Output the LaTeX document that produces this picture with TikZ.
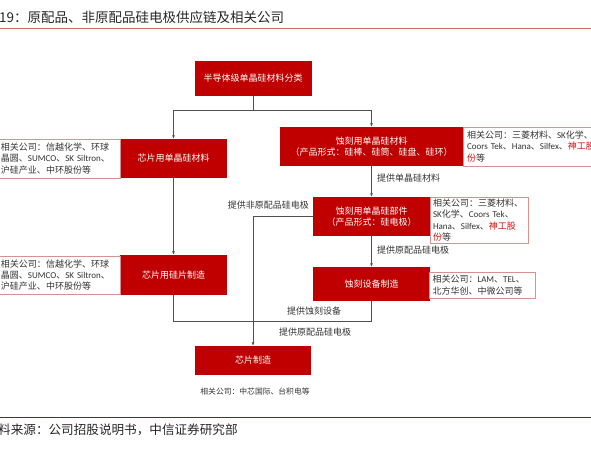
\documentclass[tikz,border=0pt]{standalone}
\usepackage{fontspec}
\setmainfont{Noto Sans CJK SC}
\newfontfamily\latf{Carlito}
\newcommand\myl[1]{{\latf #1}}
\newcommand\nohyph{\hyphenpenalty10000\relax}
\usetikzlibrary{arrows.meta}
\definecolor{boxred}{HTML}{C00000}
\definecolor{hl}{HTML}{D01010}
\definecolor{relborder}{HTML}{D89090}
\definecolor{linegray}{HTML}{505050}
\definecolor{txtgray}{HTML}{333333}
\definecolor{titleline}{HTML}{D06A6A}
\tikzset{
  redbox/.style={fill=boxred, text=white, font=\fontsize{9}{11.2}\selectfont, align=center, inner sep=0pt},
  relbox/.style={draw=relborder, line width=0.6pt, fill=white, font={\fontsize{9}{11.2}\selectfont\nohyph}, text=txtgray, align=left, inner xsep=2pt, inner ysep=0pt},
  conn/.style={draw=linegray, line width=0.7pt},
  arr/.style={conn, -{Latex[length=3.5pt,width=3pt]}},
  lbl/.style={font=\fontsize{9}{11}\selectfont, text=txtgray, inner sep=0pt},
}
\begin{document}
\begin{tikzpicture}[x=1pt,y=-1pt]
\useasboundingbox (0,0) rectangle (591,450);
\clip (0,0) rectangle (591,450);
% title and footer
\node[anchor=west, inner sep=0pt, font=\fontsize{13.5}{15}\selectfont, text=black!85] (title) at (-1,17) {19：原配品、非原配品硅电极供应链及相关公司};
\draw[titleline, line width=1pt] (0,28.5) -- (591,28.5);
\draw[boxred, line width=0.8pt] (0,417) -- (591,417);
\node[anchor=west, inner sep=0pt, font=\fontsize{12.6}{14}\selectfont, text=black!85] (foot) at (-2,430) {料来源：公司招股说明书，中信证券研究部};
% red boxes
\node[redbox, minimum width=117, minimum height=35] (top) at (253,78.5) {半导体级单晶硅材料分类};
\node[redbox, minimum width=107, minimum height=39] (chipmat) at (173.5,158.5) {芯片用单晶硅材料};
\node[redbox, minimum width=183, minimum height=39] (etchmat) at (371.5,146.5) {蚀刻用单晶硅材料\\（产品形式：硅棒、硅筒、硅盘、硅环）};
\node[redbox, minimum width=117, minimum height=39] (etchpart) at (371.5,216.5) {蚀刻用单晶硅部件\\（产品形式：硅电极）};
\node[redbox, minimum width=107, minimum height=40] (chipwafer) at (173.5,275) {芯片用硅片制造};
\node[redbox, minimum width=117, minimum height=34] (equip) at (371.5,284) {蚀刻设备制造};
\node[redbox, minimum width=116, minimum height=29] (chip) at (253,360.5) {芯片制造};
% related-company boxes
\node[relbox, text width=117, minimum height=39] (chipmatrel) at (59.5,158.5) {相关公司：信越化学、环球\\晶圆、\myl{SUMCO}、\myl{SK Siltron}、\\沪硅产业、中环股份等};
\node[relbox, text width=117, minimum height=38] (chipwaferrel) at (59.5,275) {相关公司：信越化学、环球\\晶圆、\myl{SUMCO}、\myl{SK Siltron}、\\沪硅产业、中环股份等};
\node[relbox, inner xsep=4pt, text width=179, minimum height=39] (etchmatrel) at (556.5,146.5) {相关公司：三菱材料、\myl{SK}化学、\\\myl{Coors Tek}、\myl{Hana}、\myl{Silfex}、\textcolor{hl}{神工股}\\\textcolor{hl}{份}等};
\node[relbox, inner xsep=3pt, text width=92, minimum height=46] (etchpartrel) at (479,220) {相关公司：三菱材料、\\\myl{SK}化学、\myl{Coors Tek}、\\\myl{Hana}、\myl{Silfex}、\textcolor{hl}{神工股}\\\textcolor{hl}{份}等};
\node[relbox, inner xsep=3pt, text width=100, minimum height=26] (equiprel) at (482.5,285) {相关公司：\myl{LAM}、\myl{TEL}、\\北方华创、中微公司等};
\node[inner sep=0pt, font=\fontsize{7.8}{9}\selectfont, text=txtgray] (cap) at (255,392) {相关公司：中芯国际、台积电等};
% connectors
\coordinate (split) at (253,110);
\coordinate (joinL) at (173.5,321);
\draw[conn] (top.south) -- (split);
\draw[arr] (split) -| (chipmat.north);
\draw[arr] (split) -| (etchmat.north);
\draw[arr] (chipmat.south) -- (chipwafer.north);
\draw[arr] (etchmat.south) -- (etchpart.north);
\draw[arr] (etchpart.south) -- (equip.north);
\draw[arr] (etchpart.west) -| (chip.north);
\draw[conn] (chipwafer.south) -- (joinL) -| (equip.south);
% connector labels
\node[lbl, anchor=west] (l1) at (377,178) {提供单晶硅材料};
\node[lbl, anchor=west] (l2) at (377,250) {提供原配品硅电极};
\node[lbl, anchor=east] (l3) at (309,205) {提供非原配品硅电极};
\node[lbl] (l4) at (314,311) {提供蚀刻设备};
\node[lbl] (l5) at (315,332) {提供原配品硅电极};
\end{tikzpicture}
\end{document}
